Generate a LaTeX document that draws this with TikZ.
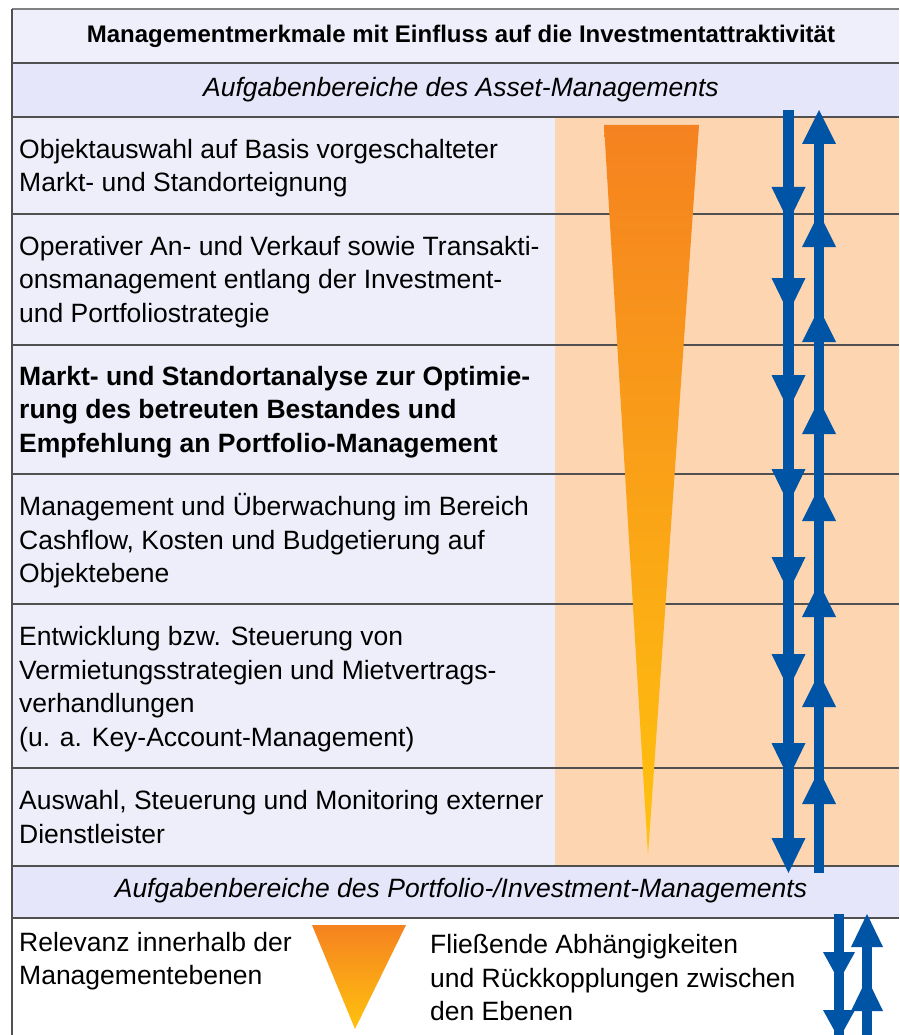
\documentclass[tikz,border=0pt]{standalone}
\usepackage{fontspec}
\setmainfont{Liberation Sans}
\definecolor{titlebg}{HTML}{EFEFFB}
\definecolor{headbg}{HTML}{E6E6FA}
\definecolor{cellbg}{HTML}{EEEEFA}
\definecolor{peach}{HTML}{FDD5B1}
\definecolor{wedgetop}{HTML}{F58220}
\definecolor{wedgebot}{HTML}{FFC20E}
\definecolor{arrowblue}{HTML}{0054A6}
\definecolor{gridgray}{HTML}{505050}
\tikzset{
  gridline/.style={draw=gridgray,line width=1.3pt},
  bodytext/.style={inner sep=0pt,align=left,font=\fontsize{26.5}{33.5}\selectfont},
  headtext/.style={inner sep=0pt,font=\fontsize{26.5}{33.5}\selectfont\itshape},
  titletext/.style={inner sep=0pt,font=\fontsize{24}{28}\selectfont\bfseries},
  shaft/.style={draw=arrowblue,line width=10.5pt},
  headfill/.style={fill=arrowblue}
}
\begin{document}
\begin{tikzpicture}[x=1pt,y=-1pt]
\useasboundingbox (0,0) rectangle (899,1035);
% backgrounds
\fill[white] (0,0) rectangle (899,1035);
\fill[titlebg] (12,9) rectangle (899,63);
\fill[headbg] (12,63) rectangle (899,117);
\fill[cellbg] (12,117) rectangle (555,866);
\fill[peach] (555,117) rectangle (899,866);
\fill[headbg] (12,866) rectangle (899,918);
% grid lines
\draw[gridline,draw=gray] (12,9) -- (899,9);
\foreach \yy in {63,117,214,345,474,604,768,866,918}
  \draw[gridline] (12,\yy) -- (899,\yy);
\draw[gridline] (12,9) -- (12,1035);
% texts
\node[titletext] (title) at (461,36) {Managementmerkmale mit Einfluss auf die Investmentattraktivität};
\node[headtext] (asset) at (461,90) {Aufgabenbereiche des Asset-Managements};
\node[bodytext,anchor=west] (r1) at (19,168) {Objektauswahl auf Basis vorgeschalteter\\Markt- und Standorteignung};
\node[bodytext,anchor=west] (r2) at (19,282) {Operativer An- und Verkauf sowie Transakti-\\onsmanagement entlang der Investment-\\und Portfoliostrategie};
\node[bodytext,anchor=west,font=\fontsize{26.5}{33.5}\selectfont\bfseries] (r3) at (19,412) {Markt- und Standortanalyse zur Optimie-\\rung des betreuten Bestandes und\\Empfehlung an Portfolio-Management};
\node[bodytext,anchor=west] (r4) at (19,541) {Management und Überwachung im Bereich\\Cashflow, Kosten und Budgetierung auf\\Objektebene};
\node[bodytext,anchor=west] (r5) at (19,689) {Entwicklung bzw. Steuerung von\\Vermietungsstrategien und Mietvertrags-\\verhandlungen\\(u. a. Key-Account-Management)};
\node[bodytext,anchor=west] (r6) at (19,817) {Auswahl, Steuerung und Monitoring externer\\Dienstleister};
\node[headtext] (portfolio) at (461,891) {Aufgabenbereiche des Portfolio-/Investment-Managements};
\node[bodytext,anchor=west] (leg1) at (19,961) {Relevanz innerhalb der\\Managementebenen};
\node[bodytext,anchor=west] (leg2) at (430,978) {Fließende Abhängigkeiten\\und Rückkopplungen zwischen\\den Ebenen};
% wedge
\shade[top color=wedgetop,bottom color=wedgebot] (604,125) -- (699,125) -- (648,855) -- cycle;
\shade[top color=wedgetop,bottom color=wedgebot] (312,925) -- (406,925) -- (355,1029) -- cycle;
% main arrows
\draw[shaft] (788.5,110) -- (788.5,845);
\foreach \t in {187,278,375,469,557,654,743,838}
  \fill[headfill] (771.5,\t) -- (805.5,\t) -- (788.5,\t+35) -- cycle;
\draw[shaft] (819,135) -- (819,873);
\foreach \t in {110,213,308,400,487,583,673,770}
  \fill[headfill] (819,\t) -- (802,\t+34) -- (836,\t+34) -- cycle;
% legend arrows
\draw[shaft,line width=10pt] (839,914) -- (839,1035);
\foreach \t in {952,1010}
  \fill[headfill] (823,\t) -- (855,\t) -- (839,\t+29) -- cycle;
\draw[shaft,line width=10pt] (867,940) -- (867,1035);
\foreach \t in {914,978}
  \fill[headfill] (867,\t) -- (851,\t+33) -- (883,\t+33) -- cycle;
\end{tikzpicture}
\end{document}
